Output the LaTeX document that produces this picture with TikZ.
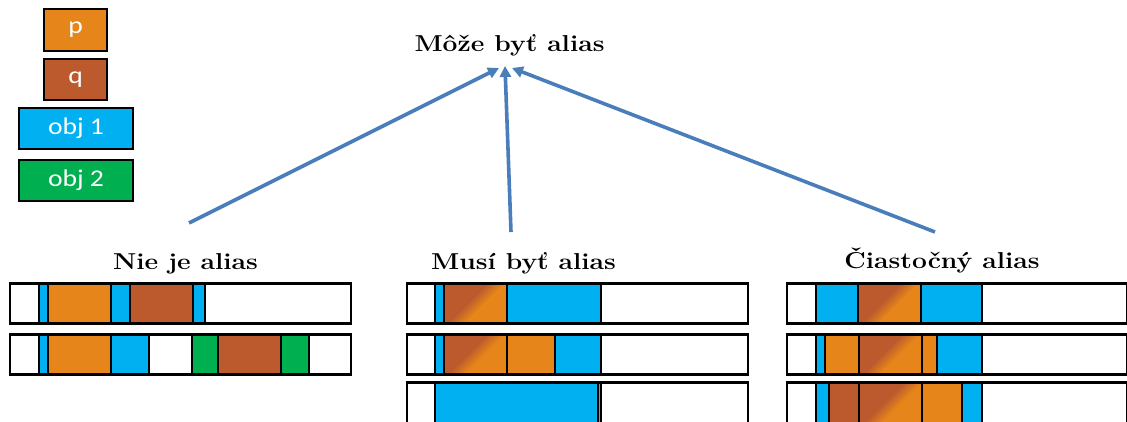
\documentclass[tikz,border=0pt]{standalone}
\usepackage{graphicx}
\usepackage{fontspec}
\newfontfamily\carlito{Carlito}
\usetikzlibrary{arrows.meta}
\definecolor{porange}{HTML}{E5851A}
\definecolor{qbrown}{HTML}{BC5A2E}
\definecolor{objblue}{HTML}{00B0F0}
\definecolor{objgreen}{HTML}{00B050}
\definecolor{arrowblue}{HTML}{4A7EBB}
\pgfdeclarehorizontalshading{pqshade}{100bp}{color(0bp)=(qbrown); color(44bp)=(qbrown); color(56bp)=(porange); color(100bp)=(porange)}
\newcommand\seg[3]{\draw[segbox,#3] (#1,\yb) rectangle (#2,\yt);}
\newcommand\rowat[2]{\def\yb{#1}\def\yt{#2}}
\newcommand\wideL[1]{\scalebox{1.15}[1]{#1}}
\newcommand\wideT[1]{\scalebox{1.15}[1]{#1}}
\begin{document}
\begin{tikzpicture}[x=1pt,y=1pt,
  segbox/.style={draw=black,line width=2.7pt},
  pp/.style={fill=porange},
  qq/.style={fill=qbrown},
  ob/.style={fill=objblue},
  og/.style={fill=objgreen},
  wh/.style={fill=white},
  pq/.style={shade,shading=pqshade,shading angle=-45},
  legend/.style={draw=black,line width=2.8pt,text=white,font=\carlito\fontsize{24}{28}\selectfont,minimum height=41pt,inner sep=0pt},
  title/.style={font=\fontsize{23}{28}\selectfont\bfseries,anchor=base,inner sep=0pt},
  arr/.style={draw=arrowblue,line width=3.6pt,-{Triangle[length=11pt,width=11pt]}}]
\useasboundingbox (0,0) rectangle (1127,421);
\clip (0,0) rectangle (1127,421);

% legend
\node[legend,fill=porange,minimum width=63pt,minimum height=42pt] (p) at (75.5,391) {\wideL{p}};
\node[legend,fill=qbrown,minimum width=63pt] (q) at (75.5,341.5) {\wideL{q}};
\node[legend,fill=objblue,minimum width=114pt] (o1) at (76,292.5) {\wideL{obj 1}};
\node[legend,fill=objgreen,minimum width=114pt] (o2) at (76,240.5) {\wideL{obj 2}};

% titles
\node[title] (top) at (509.5,369) {\wideT{Môže byť alias}};
\node[title] (t1) at (185.5,152) {\wideT{Nie je alias}};
\node[title] (t2) at (523.5,152) {\wideT{Musí byť alias}};
\node[title] (t3) at (942,153) {\wideT{Čiastočný alias}};

% arrows
\coordinate (s1) at (189,198); \coordinate (e1) at (499,353);
\coordinate (s2) at (511,189); \coordinate (e2) at (505,355);
\coordinate (s3) at (935,189); \coordinate (e3) at (512,353);
\draw[arr] (s1) -- (e1);
\draw[arr] (s2) -- (e2);
\draw[arr] (s3) -- (e3);

% left group
\rowat{97.7}{137.7}
\seg{10}{351}{wh}
\seg{39}{48}{ob}\seg{48}{111}{pp}\seg{111}{130}{ob}\seg{130}{193}{qq}\seg{193}{205}{ob}
\rowat{46.7}{86.7}
\seg{10}{351}{wh}
\seg{39}{48}{ob}\seg{48}{111}{pp}\seg{111}{149}{ob}\seg{192}{218}{og}\seg{218}{281}{qq}\seg{281}{309}{og}

% middle group
\rowat{97.7}{137.7}
\seg{407}{748}{wh}
\seg{435}{444}{ob}\seg{444}{507}{pq}\seg{507}{601}{ob}
\rowat{46.7}{86.7}
\seg{407}{748}{wh}
\seg{435}{444}{ob}\seg{444}{507}{pq}\seg{507}{555}{pp}\seg{555}{601}{ob}
\rowat{-6}{38.7}
\seg{407}{748}{wh}
\seg{435}{598}{ob}\seg{598}{601}{pp}

% right group
\rowat{97.7}{137.7}
\seg{787}{1127.5}{wh}
\seg{816}{858}{ob}\seg{858}{921}{pq}\seg{921}{982}{ob}
\rowat{46.7}{86.7}
\seg{787}{1127.5}{wh}
\seg{816}{825}{ob}\seg{825}{859}{pp}\seg{859}{922}{pq}\seg{922}{937}{pp}\seg{937}{982}{ob}
\rowat{-6}{38.7}
\seg{787}{1127.5}{wh}
\seg{816}{829}{ob}\seg{829}{859}{qq}\seg{859}{922}{pq}\seg{922}{962}{pp}\seg{962}{982}{ob}
\end{tikzpicture}
\end{document}
